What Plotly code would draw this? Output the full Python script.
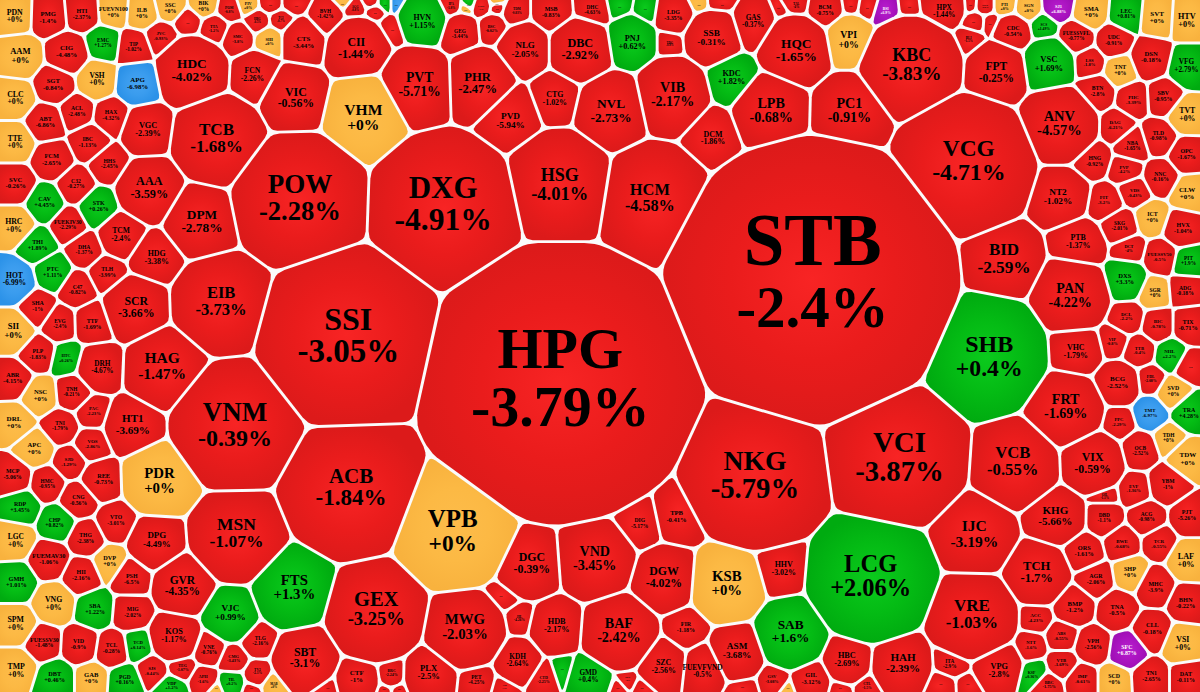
import numpy as np
import plotly.graph_objects as go

# stock tickers and their daily change in %
TICKERS = [
    "HPG", "STB", "SSI", "POW", "DXG", "HSG", "HCM", "EIB", "VNM", "ACB",
    "MSN", "PDR", "VPB", "KSB", "NKG", "VCI", "SHB", "LCG", "VRE", "VCG",
    "KBC", "BID", "VCB", "FRT", "PAN", "IJC", "TCH", "KHG", "VIX", "ANV",
    "NT2", "FPT", "VSC", "HQC", "PC1", "LPB", "VIB", "NVL", "DBC", "SSB",
    "KDC", "PNJ", "VPI", "HVN", "CII", "PVT", "PHR", "NLG", "CTG", "PVD",
    "DCM", "VHM", "HDC", "TCB", "VIC", "FCN", "CTS", "AAA", "VGC", "DPM",
    "HDG", "SCR", "HAG", "DRH", "HT1", "DPG", "GVR", "KOS", "VJC", "FTS",
    "GEX", "SBT", "MWG", "PLX", "CTF", "DGC", "VND", "DGW", "HDB", "KDH",
    "BAF", "FIR", "ASM", "SAB", "HHV", "SZC", "FUEVFVND", "HBC", "HAH", "ITA",
    "VPG", "GIL", "GSV", "CTL", "GMD", "...", "CTD", "PET", "JIL", "...",
    "BRC", "DIG", "TPB", "PDN", "PMG", "HTI", "FUEVN100", "ILB", "SSC", "BIK",
    "POM", "PIV", "...", "...", "...", "TTA", "SMC", "HBG", "TCI", "SHI",
    "AAM", "CIG", "EMC", "TIP", "JVC", "VSH", "APG", "SGT", "CLC", "ABT",
    "ACL", "HAX", "IBC", "FCM", "TTE", "HHS", "C32", "SVC", "CAV", "STK",
    "HRC", "FUEKIV30", "TCM", "THI", "PTC", "DHA", "TLH", "C47", "HOT", "SHA",
    "EVG", "TTF", "SII", "PLP", "HTC", "ABR", "NSC", "TNH", "PAC", "DRL",
    "TNI", "APC", "VOS", "SJD", "MCP", "HMC", "CNG", "REE", "VTO", "THG",
    "RDP", "CHP", "LGC", "FUEMAV30", "DVP", "HII", "GMH", "PSH", "SBA", "VNG",
    "MIG", "SPM", "FUESSV30", "VID", "TCL", "TCD", "SJS", "TEG", "VNE", "CMG",
    "TLG", "TV2", "APH", "TMP", "DBT", "GAB", "PGD", "VDP", "TIL", "MAB",
    "...", "...", "BVH", "AGG", "...", "...", "...", "...", "...", "...",
    "IPA", "...", "...", "CMX", "GEG", "BSC", "TDM", "...", "...", "MSB",
    "DHC", "LDG", "...", "...", "TDG", "GAS", "TAL", "BCM", "...", "...",
    "...", "...", "...", "BSI", "HPX", "...", "HNT", "PTI", "SGN", "SJ1",
    "SMA", "LEC", "SVT", "HTV", "SCS", "CDC", "...", "...", "BLI", "...",
    "FUESSVFL", "UDC", "LSS", "TNT", "DSN", "VFG", "BTN", "PHC", "SBV", "TVT",
    "DAG", "NBA", "TLD", "OPC", "HNG", "PVP", "NNC", "CLW", "FIT", "VDS",
    "ICT", "HVX", "SKG", "PTB", "DCT", "FUESSV50", "PIT", "DXS", "SGR", "ADG",
    "DCL", "BIC", "TIX", "VIP", "TTB", "VHC", "NHL", "...", "BCG", "FDL",
    "SVD", "TMT", "TRA", "PPC", "TDH", "OCB", "TDW", "EVF", "YBM", "OIL",
    "DBD", "ACG", "PJT", "BWE", "TCR", "ORS", "LAF", "SHP", "AGR", "MHC",
    "BMP", "ACC", "TNA", "BHN", "CLL", "VSI", "ABS", "NTT", "VPH", "SFC",
    "VTB", "KSF", "IMP", "SCD", "TN1", "DAT", "BBC", "...", "...", "...",
    "...", "...", "...", "...", "PPE", "...", "API", "...", "...", "...",
]
CHANGES = [
    -3.79, -2.4, -3.05, -2.28, -4.91, -4.01, -4.58, -3.73, -0.39, -1.84,
    -1.07, 0, 0, 0, -5.79, -3.87, 0.4, 2.06, -1.03, -4.71,
    -3.83, -2.59, -0.55, -1.69, -4.22, -3.19, -1.7, -5.66, -0.59, -4.57,
    -1.02, -0.25, 1.69, -1.65, -0.91, -0.68, -2.17, -2.73, -2.92, -0.31,
    1.82, 0.62, 0, 1.15, -1.44, -5.71, -2.47, -2.05, -1.02, -5.94,
    -1.86, 0, -4.02, -1.68, -0.56, -2.26, -3.44, -3.59, -2.39, -2.78,
    -3.38, -3.66, -1.47, -4.67, -3.69, -4.49, -4.35, -1.17, 0.99, 1.3,
    -3.25, -3.1, -2.03, -2.5, -1, -0.39, -3.45, -4.02, -2.17, -2.64,
    -2.42, -1.18, -3.68, 1.6, -3.02, -2.56, -0.5, -2.69, -2.39, -2.9,
    -2.8, -3.12, -3.08, -1.5, 0.4, 0.5, -2.25, -4.25, -4.26, -1,
    -2.24, -5.17, -0.41, 0, -1.4, -2.37, 0, 0, 0, 0,
    -0.8, 0, -1, -1, -1, -1.2, -3.8, -0.5, -0.7, 0,
    0, -4.48, 1.27, -1.02, -0.93, 0, -6.98, -0.84, 0, -6.86,
    -2.48, -4.32, -1.13, -2.65, 0, -2.45, -0.27, -0.26, 4.45, 0.26,
    0, -2.29, -2.4, 1.89, 1.11, -1.37, -3.99, -0.82, -6.99, -1,
    -2.4, -1.69, 0, -1.83, 0.26, -4.15, 0, -0.21, -2.23, 0,
    -1.79, 0, -2.86, -1.29, -5.06, -0.95, -0.56, -0.73, -3.01, -2.38,
    3.45, 0.82, 0, -1.06, 0, -2.16, 1.01, -6.5, 1.22, 0,
    -2.02, 0, -1.48, -0.9, -0.28, 0.14, -0.44, -1.07, -0.76, -3.43,
    -2.16, -2.1, -1.6, 0, 0.46, 0, 0.16, 1.2, 0.2, 0,
    -1, 0, -1.42, -0.8, -1, -1, -6.9, 0.5, 0, -1,
    -1.8, 0.5, 0, -1, -3.44, -0.02, -0.83, -1, 0, -0.83,
    -4.63, -3.35, 0.5, 0.5, -0.8, -0.37, -4, -0.75, 0, -1,
    -1, -1, -1, 6.9, -1.44, -1, -0.6, 0, 0, 6.88,
    0, 0.81, 0, 0, 1.49, -0.54, -1, -1, -1.5, -1,
    -0.77, -0.91, -1.8, 0, -0.18, 2.79, -2.8, -3.39, -0.95, 0,
    -6.21, -1.65, -0.98, -1.67, -0.92, -4.2, -0.16, 0, -3.2, -0.43,
    0, -1.04, -2.01, -1.37, -4, -0.5, 1.9, 3.3, 0, -0.18,
    -2.2, -0.78, -0.71, -0.8, -0.4, -1.79, 2.2, -1, -2.52, -2.08,
    0, -6.97, 4.28, -2.29, 0, -2.52, 0, -1.36, -1, -1.1,
    -1.1, -0.98, -5.26, -0.68, -0.55, -1.61, 0, 0, -2.06, -3.9,
    -1.2, -4.23, -0.5, -0.22, -0.18, 0, -0.55, -1.6, -2.56, 6.87,
    -1.69, 0.36, -0.61, 0, -2.65, -0.11, -1.75, -1, -1, -1,
    -1, 0, -1, -1, -2, 0.5, -1, -1, -1, -1,
]

# seeds of the voronoi treemap: where each stock sits and how much room it takes
SEED_X = [
    560, 815, 345, 298, 443, 560, 655, 222, 234, 350,
    236, 160, 455, 727, 757, 897, 985, 872, 973, 965,
    911, 1003, 1015, 1066, 1072, 975, 1037, 1055, 1092, 1060,
    1060, 996, 1049, 795, 850, 770, 672, 612, 580, 713,
    733, 631, 850, 422, 358, 415, 482, 525, 555, 510,
    712, 365, 192, 217, 295, 255, 304, 150, 147, 200,
    154, 135, 166, 100, 135, 156, 184, 175, 231, 292,
    375, 305, 466, 430, 358, 528, 596, 665, 555, 517,
    620, 685, 737, 791, 780, 661, 706, 848, 900, 954,
    997, 811, 774, 866, 590, 562, 544, 477, 519, 503,
    391, 640, 678, 15, 48, 81, 113, 142, 171, 203,
    229, 247, 272, 292, 188, 214, 238, 258, 281, 269,
    20, 67, 103, 134, 161, 96, 138, 54, 15, 45,
    76, 111, 90, 52, 15, 108, 75, 15, 44, 98,
    15, 68, 122, 37, 53, 85, 106, 77, 12, 36,
    58, 94, 12, 36, 66, 12, 39, 73, 92, 14,
    60, 35, 91, 70, 12, 47, 78, 101, 115, 86,
    20, 57, 14, 49, 110, 81, 16, 131, 94, 54,
    131, 16, 42, 80, 112, 137, 152, 182, 209, 232,
    258, 257, 204, 16, 55, 92, 124, 171, 231, 271,
    252, 215, 327, 355, 375, 389, 397, 385, 344, 371,
    450, 469, 466, 481, 461, 493, 514, 497, 496, 553,
    592, 674, 616, 648, 669, 755, 797, 825, 700, 717,
    781, 851, 868, 885, 943, 970, 985, 1005, 1028, 1058,
    1091, 1126, 1158, 1190, 1043, 1012, 975, 991, 970, 911,
    1077, 1114, 1089, 1121, 1151, 1190, 1096, 1133, 1166, 1188,
    1116, 1133, 1159, 1187, 1091, 1127, 1161, 1190, 1106, 1135,
    1152, 1183, 1120, 1080, 1129, 1161, 1190, 1125, 1154, 1188,
    1127, 1158, 1192, 1114, 1139, 1077, 1172, 1190, 1118, 1151,
    1173, 1151, 1191, 1118, 1171, 1139, 1188, 1135, 1167, 1104,
    1104, 1147, 1190, 1122, 1160, 1082, 1190, 1131, 1094, 1155,
    1074, 1035, 1117, 1188, 1152, 1183, 1062, 1030, 1093, 1128,
    1062, 1035, 1081, 1115, 1151, 1188, 1048, 945, 966, 743,
    841, 787, 639, 618, 627, 605, 502, 385, 398, 326,
]
SEED_Y = [
    385, 280, 338, 200, 205, 180, 195, 305, 425, 490,
    537, 478, 530, 585, 476, 457, 355, 578, 616, 165,
    67, 260, 465, 410, 295, 535, 573, 517, 462, 125,
    195, 72, 64, 50, 112, 110, 95, 108, 50, 38,
    80, 42, 40, 18, 48, 85, 83, 50, 95, 112,
    132, 113, 72, 140, 97, 75, 40, 190, 130, 220,
    256, 308, 370, 368, 426, 543, 585, 637, 614, 590,
    613, 658, 630, 676, 680, 565, 560, 580, 628, 661,
    633, 628, 653, 634, 570, 663, 668, 660, 664, 661,
    664, 680, 679, 685, 680, 672, 678, 681, 620, 597,
    675, 526, 518, 14, 15, 12, 10, 12, 5, 3,
    8, 2, 0, 0, 20, 28, 38, 21, 19, 40,
    57, 54, 44, 48, 38, 79, 83, 84, 98, 122,
    112, 117, 142, 160, 142, 163, 185, 185, 203, 208,
    225, 225, 235, 245, 272, 250, 273, 288, 282, 308,
    323, 322, 331, 353, 359, 379, 396, 393, 412, 422,
    427, 448, 445, 462, 478, 484, 500, 480, 523, 538,
    507, 523, 540, 560, 563, 576, 582, 577, 609, 603,
    612, 626, 643, 645, 650, 646, 671, 667, 649, 659,
    639, 675, 680, 668, 680, 680, 682, 690, 683, 685,
    690, 690, 18, 10, 14, 29, 3, 3, 1, 1,
    4, 2, 7, 6, 30, 27, 13, 8, 1, 13,
    10, 15, 5, 11, 42, 25, 4, 9, 2, 1,
    14, 5, 8, 13, 6, 4, 5, 5, 8, 6,
    12, 15, 18, 20, 26, 32, 22, 23, 40, 10,
    37, 40, 62, 70, 58, 67, 93, 99, 97, 114,
    126, 146, 138, 155, 158, 169, 177, 193, 203, 191,
    218, 228, 226, 245, 249, 257, 263, 280, 293, 290,
    318, 325, 325, 341, 350, 350, 355, 365, 384, 380,
    393, 413, 413, 423, 439, 450, 457, 490, 485, 495,
    518, 518, 518, 543, 542, 553, 560, 574, 580, 587,
    605, 617, 610, 603, 631, 644, 636, 646, 645, 650,
    665, 673, 680, 680, 678, 678, 685, 684, 683, 688,
    688, 689, 688, 690, 682, 685, 688, 690, 690, 688,
]
SEED_R = [
    138, 145, 90, 67, 72, 48, 50, 50, 66, 68,
    47, 38, 60, 38, 74, 73, 62, 66, 46, 72,
    52, 38, 45, 38, 38, 42, 34, 30, 32, 39,
    28, 31, 26, 36, 38, 38, 38, 36, 33, 28,
    25, 25, 25, 24, 32, 37, 34, 27, 24, 28,
    24, 40, 36, 46, 32, 23, 21, 33, 25, 36,
    24, 32, 42, 22, 30, 27, 31, 25, 28, 40,
    50, 32, 40, 26, 21, 32, 38, 32, 25, 22,
    38, 18, 28, 36, 24, 24, 22, 25, 30, 16,
    25, 19, 13, 11, 22, 8, 12, 16, 11, 9,
    12, 17, 20, 20, 20, 18, 15, 15, 15, 14,
    11, 10, 12, 12, 12, 12, 13, 9, 9, 11,
    22, 21, 16, 16, 14, 19, 21, 20, 20, 19,
    17, 17, 18, 19, 19, 17, 17, 20, 19, 18,
    20, 17, 23, 18, 18, 17, 17, 17, 23, 18,
    16, 18, 22, 17, 13, 19, 17, 16, 14, 18,
    16, 17, 15, 15, 18, 16, 17, 19, 17, 17,
    18, 17, 19, 19, 16, 18, 19, 18, 18, 20,
    17, 20, 18, 18, 17, 14, 14, 12, 16, 13,
    16, 11, 13, 20, 19, 17, 17, 14, 12, 8,
    7, 8, 16, 9, 8, 12, 6, 6, 5, 6,
    10, 6, 4, 8, 16, 12, 10, 4, 3, 18,
    16, 18, 7, 6, 9, 22, 10, 17, 6, 8,
    4, 6, 8, 11, 22, 5, 8, 10, 12, 14,
    17, 17, 18, 21, 11, 18, 8, 7, 10, 7,
    16, 17, 14, 15, 20, 22, 17, 15, 18, 20,
    15, 16, 17, 18, 17, 14, 17, 18, 15, 14,
    15, 18, 16, 24, 13, 15, 16, 20, 14, 17,
    15, 15, 19, 13, 14, 24, 15, 15, 21, 12,
    15, 15, 18, 14, 14, 16, 18, 14, 17, 10,
    16, 16, 18, 15, 15, 19, 21, 16, 18, 18,
    20, 15, 19, 19, 19, 20, 14, 14, 17, 18,
    14, 12, 15, 15, 18, 18, 13, 9, 8, 9,
    9, 6, 5, 9, 8, 8, 8, 5, 5, 7,
]
assert len(TICKERS) == len(CHANGES) == len(SEED_X) == len(SEED_Y) == len(SEED_R)

# font sizes for the big labels, everything else scales with the cell
TICKER_PX = {"HPG": 58, "STB": 73, "SSI": 32, "DXG": 31, "POW": 27, "VNM": 27, "HSG": 18,
             "HCM": 16.4, "EIB": 16.5, "ACB": 21, "MSN": 17.5, "SHB": 24, "LCG": 24.5,
             "VCG": 23.4, "KBC": 18, "VCI": 29, "NKG": 27.7, "VPB": 25, "GEX": 20.5, "BID": 17}
PCT_PX = {"HPG": 58, "STB": 59, "DXG": 31.5, "SSI": 33, "POW": 26.6, "VNM": 24, "HSG": 18.5,
          "HCM": 16.2, "EIB": 16.6, "ACB": 23, "MSN": 17.5, "NKG": 28.7, "VCI": 28.7,
          "VCG": 23.8, "BID": 17.3, "SHB": 23.7}

W, H = 1200, 692
GAP = 2.9


def clip(poly, n, c):
    # keep the part of poly where n.p <= c
    out = []
    for k in range(len(poly)):
        a, b = poly[k], poly[(k + 1) % len(poly)]
        da, db = n @ a - c, n @ b - c
        if da <= 0:
            out.append(a)
        if da * db < 0:
            out.append(a + (b - a) * da / (da - db))
    return out


def power_cell(i, sites, radii):
    poly = [np.array(p, float) for p in [(-6, -6), (W + 6, -6), (W + 6, H + 6), (-6, H + 6)]]
    order = np.argsort(((sites - sites[i]) ** 2).sum(axis=1))
    for j in order:
        if j == i or not poly:
            continue
        d = sites[j] - sites[i]
        dist = np.hypot(*d)
        if dist == 0:
            continue
        rhs = (sites[j] @ sites[j] - radii[j] ** 2 - sites[i] @ sites[i] + radii[i] ** 2) / (2 * dist)
        poly = clip(poly, d / dist, rhs - GAP / 2)
    return poly


def visible(poly):
    # part of the cell that is inside the picture
    for n, c in (((1, 0), W), ((-1, 0), 0), ((0, 1), H), ((0, -1), 0)):
        poly = clip(poly, np.array(n, float), c)
    return poly


def area_centroid(poly):
    p = np.array(poly)
    q = np.roll(p, -1, axis=0)
    cr = p[:, 0] * q[:, 1] - q[:, 0] * p[:, 1]
    a = cr.sum() / 2
    if abs(a) < 1e-6:
        return 0, p.mean(axis=0)
    return abs(a), ((p + q) * cr[:, None]).sum(axis=0) / (6 * a)


def rounded(poly, rc):
    out = []
    m = len(poly)
    for k in range(m):
        prev, cur, nxt = poly[k - 1], poly[k], poly[(k + 1) % m]
        a = cur + (prev - cur) * min(0.45, rc / max(np.hypot(*(prev - cur)), 1e-6))
        b = cur + (nxt - cur) * min(0.45, rc / max(np.hypot(*(nxt - cur)), 1e-6))
        for t in np.linspace(0, 1, 6):
            out.append((1 - t) ** 2 * a + 2 * t * (1 - t) * cur + t ** 2 * b)
    return np.array(out)


def cell_colors(v):
    if v <= -6.9:
        return ["#45a3f2", "#3a9cee", "#2c92e8"]
    if v >= 6.85:
        return ["#b81fce", "#ac15c2", "#a00fb6"]
    if v > 0:
        return ["#0bca1d", "#04bb14", "#00ab10"]
    if v == 0:
        return ["#fdbc4a", "#fcb944", "#f8b23e"]
    return ["#f82424", "#ea1c1c", "#dc1a1a"]


def label_factor(v, r):
    if v == 0:
        return 0.39
    return 0.33 if r < 30 else 0.37


sites = np.array(list(zip(SEED_X, SEED_Y)), float)
radii = np.array(SEED_R, float)

fig = go.Figure()
lab_x, lab_y1, lab_y2, txt1, txt2, size1, size2, colors = [], [], [], [], [], [], [], []

for i, (name, val) in enumerate(zip(TICKERS, CHANGES)):
    poly = power_cell(i, sites, radii)
    if len(poly) < 3:
        continue
    area, _ = area_centroid(poly)
    shape = rounded(poly, 3.5 + 0.07 * np.sqrt(area / np.pi))
    c0, c1, c2 = cell_colors(val)
    fig.add_trace(go.Scatter(
        x=np.append(shape[:, 0], shape[0, 0]), y=np.append(shape[:, 1], shape[0, 1]),
        mode="lines", line=dict(width=0), fill="toself", fillcolor=c1,
        fillgradient=dict(type="radial", colorscale=[[0, c0], [0.55, c1], [1, c2]]),
        hoverinfo="skip", showlegend=False,
    ))
    _, centre = area_centroid(visible(poly))
    k = label_factor(val, SEED_R[i])
    f1 = TICKER_PX.get(name, k * SEED_R[i])
    f2 = PCT_PX.get(name, k * SEED_R[i])
    if name == "...":
        f1 = max(f1, 4)
    step = (f1 + f2) / 2 * 0.5
    # keep the two lines inside the picture
    cy = min(max(centre[1], step + f1 / 2 + 1), H - step - f2 / 2 - 1)
    lab_x.append(centre[0])
    lab_y1.append(cy - (0 if name == "..." else step))
    lab_y2.append(cy + step)
    txt1.append(name)
    txt2.append("" if name == "..." else f"{val:+g}%")
    size1.append(f1)
    size2.append(f2)
    colors.append("#ffffff" if val >= 6.85 else "#000000")

for y, txt, sz in ((lab_y1, txt1, size1), (lab_y2, txt2, size2)):
    fig.add_trace(go.Scatter(
        x=lab_x, y=y, text=txt, mode="text", textposition="middle center",
        textfont=dict(family="Liberation Serif", size=sz, color=colors, weight="bold"),
        hoverinfo="skip", showlegend=False,
    ))

fig.update_layout(
    width=W, height=H, margin=dict(l=0, r=0, t=0, b=0),
    paper_bgcolor="#fbfbfb", plot_bgcolor="#fbfbfb",
    xaxis=dict(range=[0, W], visible=False, fixedrange=True),
    yaxis=dict(range=[H, 0], visible=False, fixedrange=True),
)
fig.write_html("out.html", config={"displayModeBar": False},
               post_script="document.body.style.margin='0';document.body.style.overflow='hidden';")
